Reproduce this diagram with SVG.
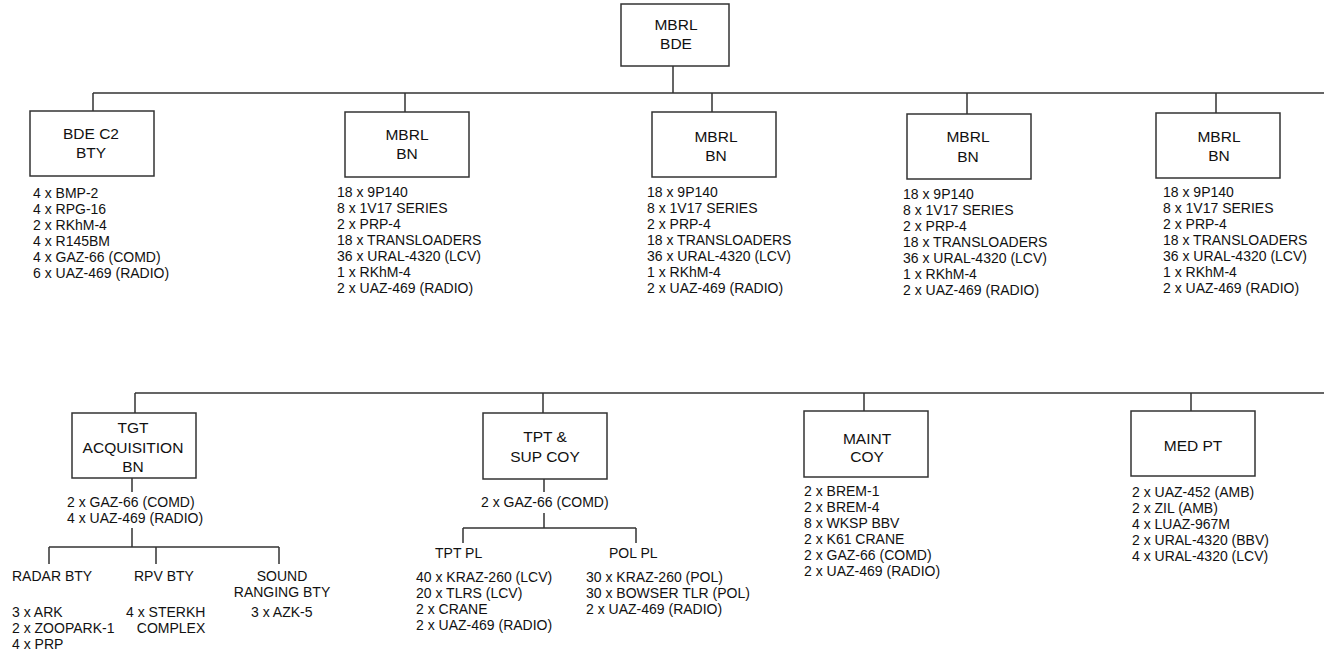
<svg xmlns="http://www.w3.org/2000/svg" width="1324" height="651" viewBox="0 0 1324 651">
<style>
.box{fill:#fff;stroke:#333;stroke-width:1.5}
.ln{stroke:#333;stroke-width:1.5;fill:none}
.lb{font-family:"Liberation Sans",Arial,sans-serif;font-size:15.5px;fill:#111;text-anchor:middle}
.tx{font-family:"Liberation Sans",Arial,sans-serif;font-size:14px;fill:#111}
.tc{font-family:"Liberation Sans",Arial,sans-serif;font-size:14px;fill:#111;text-anchor:middle}
</style>
<rect width="1324" height="651" fill="#fff"/>
<g id="connectors">
<path class="ln" d="M93 93H1324M673 66V93M93 93V111M405 93V112M712 93V112M967 93V114M1216 93V113"/>
<path class="ln" d="M135 393H1324M135 393V413M543 393V413M864 393V411M1191 393V411"/>
<path class="ln" d="M132 478V492M132 528V547M49 547H279M49 547V564M156 547V564M279 547V564"/>
<path class="ln" d="M544 479V492M544 513V528M463 528H636M463 528V543M636 528V543"/>
</g>
<g id="bde">
<rect class="box" x="621" y="4" width="108" height="62"/>
<text class="lb" x="676" y="30">MBRL</text><text class="lb" x="676" y="49">BDE</text>
</g>
<g id="c2bty">
<rect class="box" x="30" y="111" width="124" height="65"/>
<text class="lb" x="91" y="139">BDE C2</text><text class="lb" x="91" y="158">BTY</text>
<text class="tx" x="33" y="198">4 x BMP-2</text>
<text class="tx" x="33" y="214">4 x RPG-16</text>
<text class="tx" x="33" y="230">2 x RKhM-4</text>
<text class="tx" x="33" y="246">4 x R145BM</text>
<text class="tx" x="33" y="262">4 x GAZ-66 (COMD)</text>
<text class="tx" x="33" y="278">6 x UAZ-469 (RADIO)</text>
</g>
<g id="bn1">
<rect class="box" x="345" y="112" width="124" height="65"/>
<text class="lb" x="407" y="140">MBRL</text><text class="lb" x="407" y="159">BN</text>
<text class="tx" x="337" y="197">18 x 9P140</text>
<text class="tx" x="337" y="213">8 x 1V17 SERIES</text>
<text class="tx" x="337" y="229">2 x PRP-4</text>
<text class="tx" x="337" y="245">18 x TRANSLOADERS</text>
<text class="tx" x="337" y="261">36 x URAL-4320 (LCV)</text>
<text class="tx" x="337" y="277">1 x RKhM-4</text>
<text class="tx" x="337" y="293">2 x UAZ-469 (RADIO)</text>
</g>
<g id="bn2">
<rect class="box" x="652" y="112" width="124" height="65"/>
<text class="lb" x="716" y="142">MBRL</text><text class="lb" x="716" y="161">BN</text>
<text class="tx" x="647" y="197">18 x 9P140</text>
<text class="tx" x="647" y="213">8 x 1V17 SERIES</text>
<text class="tx" x="647" y="229">2 x PRP-4</text>
<text class="tx" x="647" y="245">18 x TRANSLOADERS</text>
<text class="tx" x="647" y="261">36 x URAL-4320 (LCV)</text>
<text class="tx" x="647" y="277">1 x RKhM-4</text>
<text class="tx" x="647" y="293">2 x UAZ-469 (RADIO)</text>
</g>
<g id="bn3">
<rect class="box" x="907" y="114" width="124" height="65"/>
<text class="lb" x="968" y="142">MBRL</text><text class="lb" x="968" y="162">BN</text>
<text class="tx" x="903" y="199">18 x 9P140</text>
<text class="tx" x="903" y="215">8 x 1V17 SERIES</text>
<text class="tx" x="903" y="231">2 x PRP-4</text>
<text class="tx" x="903" y="247">18 x TRANSLOADERS</text>
<text class="tx" x="903" y="263">36 x URAL-4320 (LCV)</text>
<text class="tx" x="903" y="279">1 x RKhM-4</text>
<text class="tx" x="903" y="295">2 x UAZ-469 (RADIO)</text>
</g>
<g id="bn4">
<rect class="box" x="1156" y="113" width="124" height="65"/>
<text class="lb" x="1219" y="142">MBRL</text><text class="lb" x="1219" y="161">BN</text>
<text class="tx" x="1163" y="197">18 x 9P140</text>
<text class="tx" x="1163" y="213">8 x 1V17 SERIES</text>
<text class="tx" x="1163" y="229">2 x PRP-4</text>
<text class="tx" x="1163" y="245">18 x TRANSLOADERS</text>
<text class="tx" x="1163" y="261">36 x URAL-4320 (LCV)</text>
<text class="tx" x="1163" y="277">1 x RKhM-4</text>
<text class="tx" x="1163" y="293">2 x UAZ-469 (RADIO)</text>
</g>
<g id="tgt">
<rect class="box" x="72" y="413" width="124" height="65"/>
<text class="lb" x="133" y="433">TGT</text><text class="lb" x="133" y="453">ACQUISITION</text><text class="lb" x="133" y="472">BN</text>
<text class="tx" x="67" y="507">2 x GAZ-66 (COMD)</text>
<text class="tx" x="67" y="523">4 x UAZ-469 (RADIO)</text>
</g>
<g id="radar">
<text class="tx" x="12" y="581">RADAR BTY</text>
<text class="tx" x="12" y="617">3 x ARK</text>
<text class="tx" x="12" y="633">2 x ZOOPARK-1</text>
<text class="tx" x="12" y="649">4 x PRP</text>
</g>
<g id="rpv">
<text class="tx" x="134" y="581">RPV BTY</text>
<text class="tx" x="126" y="617">4 x STERKH</text>
<text class="tc" x="171" y="633">COMPLEX</text>
</g>
<g id="sound">
<text class="tc" x="282" y="581">SOUND</text>
<text class="tc" x="282" y="597">RANGING BTY</text>
<text class="tx" x="251" y="617">3 x AZK-5</text>
</g>
<g id="tpt">
<rect class="box" x="483" y="413" width="124" height="66"/>
<text class="lb" x="545" y="442">TPT &amp;</text><text class="lb" x="545" y="462">SUP COY</text>
<text class="tx" x="481" y="507">2 x GAZ-66 (COMD)</text>
</g>
<g id="tptpl">
<text class="tx" x="435" y="558">TPT PL</text>
<text class="tx" x="416" y="582">40 x KRAZ-260 (LCV)</text>
<text class="tx" x="416" y="598">20 x TLRS (LCV)</text>
<text class="tx" x="416" y="614">2 x CRANE</text>
<text class="tx" x="416" y="630">2 x UAZ-469 (RADIO)</text>
</g>
<g id="polpl">
<text class="tx" x="609" y="558">POL PL</text>
<text class="tx" x="586" y="582">30 x KRAZ-260 (POL)</text>
<text class="tx" x="586" y="598">30 x BOWSER TLR (POL)</text>
<text class="tx" x="586" y="614">2 x UAZ-469 (RADIO)</text>
</g>
<g id="maint">
<rect class="box" x="804" y="411" width="124" height="66"/>
<text class="lb" x="867" y="444">MAINT</text><text class="lb" x="867" y="462">COY</text>
<text class="tx" x="804" y="496">2 x BREM-1</text>
<text class="tx" x="804" y="512">2 x BREM-4</text>
<text class="tx" x="804" y="528">8 x WKSP BBV</text>
<text class="tx" x="804" y="544">2 x K61 CRANE</text>
<text class="tx" x="804" y="560">2 x GAZ-66 (COMD)</text>
<text class="tx" x="804" y="576">2 x UAZ-469 (RADIO)</text>
</g>
<g id="med">
<rect class="box" x="1131" y="411" width="124" height="65"/>
<text class="lb" x="1193" y="451">MED PT</text>
<text class="tx" x="1132" y="497">2 x UAZ-452 (AMB)</text>
<text class="tx" x="1132" y="513">2 x ZIL (AMB)</text>
<text class="tx" x="1132" y="529">4 x LUAZ-967M</text>
<text class="tx" x="1132" y="545">2 x URAL-4320 (BBV)</text>
<text class="tx" x="1132" y="561">4 x URAL-4320 (LCV)</text>
</g>
</svg>
